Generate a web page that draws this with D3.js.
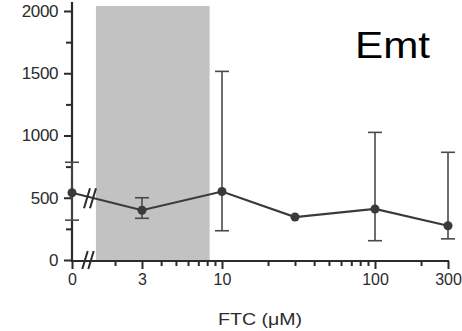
<!DOCTYPE html>
<html>
<head>
<meta charset="utf-8">
<script src="https://cdn.jsdelivr.net/npm/d3@7/dist/d3.min.js"></script>
<style>
  html, body { margin: 0; padding: 0; background: #fff; }
  svg { display: block; }
  text { font-family: "Liberation Sans", Arial, sans-serif; }
</style>
</head>
<body>
<svg id="chart" width="462" height="331"></svg>
<script>
// FTC concentrations (µM); 0 is the vehicle control drawn left of the axis break
const concentrations = [0, 3, 10, 30, 100, 300];
const meanValues  = [540, 400, 550, 345, 410, 275];
// error bar ends (null where the bar is hidden by the marker)
const upperValues = [785, 500, 1515, null, 1025, 865];
const lowerValues = [320, 335, 235, null, 155, 170];

const yMajorTicks = [0, 500, 1000, 1500, 2000];
const yMinorTicks = [250, 750, 1250, 1750];
const xMajorTicks = [3, 10, 100, 300];
const xMinorTicks = [2, 4, 5, 6, 7, 8, 9, 20, 30, 40, 50, 60, 70, 80, 90, 200];
const shadedRange = [1.5, 8.3];
const panelLabel = "Emt";
const xTitle = "FTC (\u03BCM)";

const svg = d3.select("#chart");
const ink = "#2b2b2b";
const fontFam = "'Liberation Sans', Arial, sans-serif";

const y = d3.scaleLinear().domain([0, 2000]).range([260, 11]);
const xLog = d3.scaleLog().domain([10, 100]).range([222, 375]);
const xZero = d3.scaleLinear().domain([0, 1]).range([72, 90]);
const xPos = c => c === 0 ? xZero(0) : xLog(c);
const axisLeftX = xZero(0);
const axisY = y(0) + 1;

// shaded concentration window
svg.append("rect")
  .attr("x", xLog(shadedRange[0]))
  .attr("y", 6)
  .attr("width", xLog(shadedRange[1]) - xLog(shadedRange[0]))
  .attr("height", axisY - 6)
  .attr("fill", "#c2c2c2");

// y axis
const yAxis = svg.append("g").attr("transform", `translate(${axisLeftX},0)`)
  .call(d3.axisLeft(y).tickValues(yMajorTicks).tickSize(8).tickPadding(6)
    .tickSizeOuter(0).tickFormat(d3.format("d")));
yAxis.select(".domain").remove();
yAxis.selectAll(".tick line").attr("stroke", ink).attr("stroke-width", 2);
yAxis.selectAll(".tick text").attr("font-size", 17).attr("fill", ink)
  .attr("font-family", fontFam).attr("letter-spacing", -0.4);
const yMinor = svg.append("g").attr("transform", `translate(${axisLeftX},0)`)
  .call(d3.axisLeft(y).tickValues(yMinorTicks).tickSize(6).tickFormat(""));
yMinor.select(".domain").remove();
yMinor.selectAll(".tick line").attr("stroke", ink).attr("stroke-width", 2);
svg.append("line")
  .attr("x1", axisLeftX).attr("x2", axisLeftX)
  .attr("y1", 2).attr("y2", axisY + 1)
  .attr("stroke", ink).attr("stroke-width", 2.2);

// x axis (log part)
const xAxis = svg.append("g").attr("transform", `translate(0,${axisY})`)
  .call(d3.axisBottom(xLog).tickValues(xMajorTicks).tickSize(8).tickPadding(5)
    .tickFormat(d3.format("d")));
xAxis.select(".domain").remove();
xAxis.selectAll(".tick line").attr("stroke", ink).attr("stroke-width", 2);
xAxis.selectAll(".tick text").attr("font-size", 16).attr("fill", ink)
  .attr("font-family", fontFam);
const xMinor = svg.append("g").attr("transform", `translate(0,${axisY})`)
  .call(d3.axisBottom(xLog).tickValues(xMinorTicks).tickSize(5).tickFormat(""));
xMinor.select(".domain").remove();
xMinor.selectAll(".tick line").attr("stroke", ink).attr("stroke-width", 2);

// x axis (zero part)
const xZeroAxis = svg.append("g").attr("transform", `translate(0,${axisY})`)
  .call(d3.axisBottom(xZero).tickValues([0]).tickSize(8).tickPadding(5).tickFormat(d3.format("d")));
xZeroAxis.select(".domain").remove();
xZeroAxis.selectAll(".tick line").attr("stroke", ink).attr("stroke-width", 2);
xZeroAxis.selectAll(".tick text").attr("font-size", 16).attr("fill", ink)
  .attr("font-family", fontFam);

svg.append("line")
  .attr("x1", axisLeftX - 1).attr("x2", xLog(300) + 1)
  .attr("y1", axisY).attr("y2", axisY)
  .attr("stroke", ink).attr("stroke-width", 2.2);

// axis break marks
function breakMark(cx, cy, h) {
  [-3, 3].forEach(dx => {
    svg.append("line")
      .attr("x1", cx + dx - h * 0.3).attr("y1", cy + h)
      .attr("x2", cx + dx + h * 0.3).attr("y2", cy - h)
      .attr("stroke", ink).attr("stroke-width", 2);
  });
}
breakMark(88, axisY - 1, 9);

// error bars
const pts = concentrations.map((c, i) => ({
  c, mean: meanValues[i], hi: upperValues[i], lo: lowerValues[i]
}));
const barColor = "#4a4a4a";
const capHalf = 7;
const eb = svg.append("g");
pts.filter(p => p.hi != null).forEach(p => {
  const px = xPos(p.c);
  eb.append("line").attr("x1", px).attr("x2", px)
    .attr("y1", y(p.hi)).attr("y2", y(p.lo))
    .attr("stroke", barColor).attr("stroke-width", 1.6);
  [p.hi, p.lo].forEach(v => {
    eb.append("line").attr("x1", px - capHalf).attr("x2", px + capHalf)
      .attr("y1", y(v)).attr("y2", y(v))
      .attr("stroke", barColor).attr("stroke-width", 1.6);
  });
});

// mean line and markers
svg.append("path")
  .datum(pts)
  .attr("d", d3.line().x(p => xPos(p.c)).y(p => y(p.mean)))
  .attr("fill", "none").attr("stroke", "#3a3a3a").attr("stroke-width", 2.2);
svg.selectAll("circle.pt").data(pts).join("circle")
  .attr("class", "pt")
  .attr("cx", p => xPos(p.c)).attr("cy", p => y(p.mean))
  .attr("r", 4.5).attr("fill", "#3a3a3a");

// break across the first segment
const p0 = pts[0], p1 = pts[1];
const bx = 90;
const by = y(p0.mean) + (y(p1.mean) - y(p0.mean)) * (bx - xPos(p0.c)) / (xPos(p1.c) - xPos(p0.c));
breakMark(bx, by + 1, 10);

// titles
svg.append("text")
  .attr("x", 260).attr("y", 325)
  .attr("text-anchor", "middle")
  .attr("font-size", 16).attr("fill", ink)
  .attr("textLength", 84).attr("lengthAdjust", "spacingAndGlyphs")
  .text(xTitle);

svg.append("text")
  .attr("x", 355).attr("y", 58)
  .attr("font-family", "Lato, 'Open Sans', sans-serif")
  .attr("font-size", 37).attr("fill", "#000")
  .attr("textLength", 75).attr("lengthAdjust", "spacingAndGlyphs")
  .text(panelLabel);
</script>
</body>
</html>
